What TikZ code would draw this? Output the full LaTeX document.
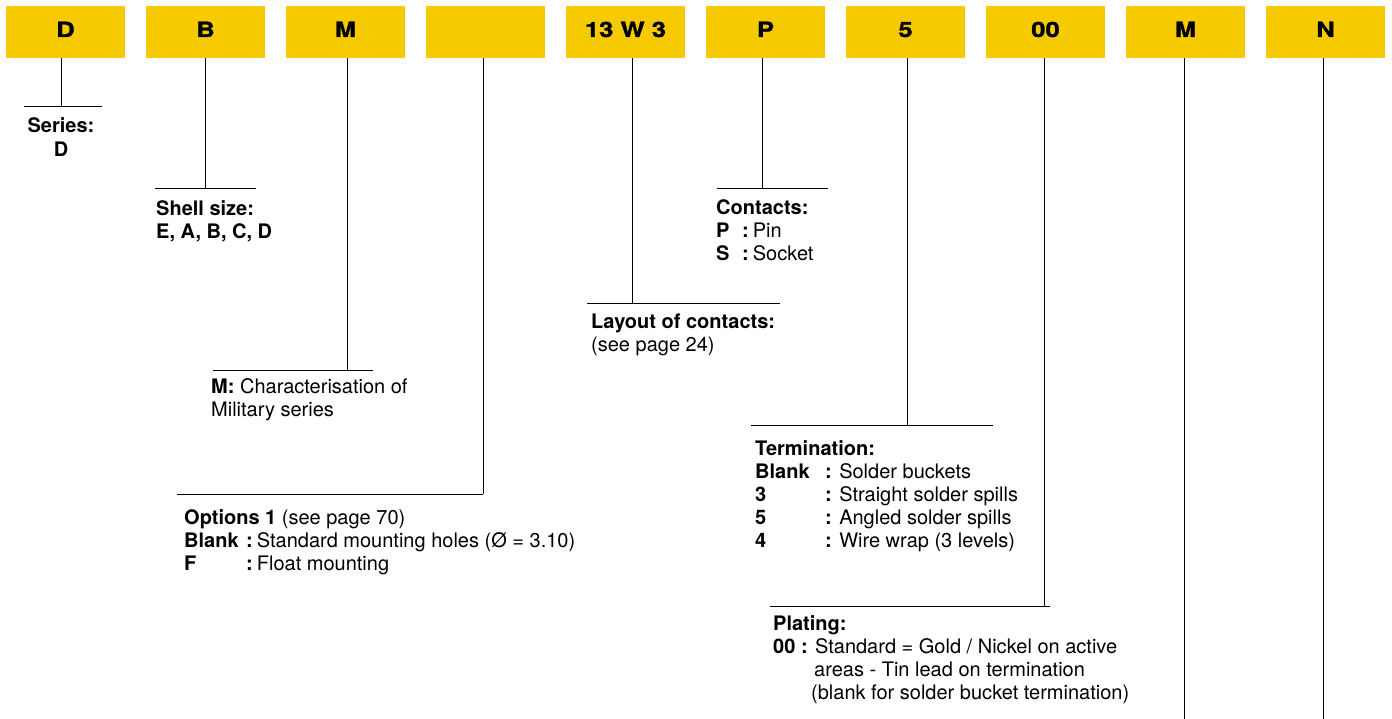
\documentclass[tikz,border=0pt]{standalone}
\usepackage{fontspec}
\setmainfont{TeX Gyre Heros}
\newfontfamily\boxfont{TeX Gyre Heros}[FakeStretch=1.22,FakeBold=1.2]
\definecolor{codeyellow}{RGB}{245,203,0}
\begin{document}
\begin{tikzpicture}[x=1pt,y=-1pt,
  codebox/.style={fill=codeyellow, draw=none, minimum width=119pt, minimum height=52pt, inner sep=0pt, anchor=north west},
  codetxt/.style={anchor=base, inner sep=0pt, font=\boxfont\bfseries\fontsize{21}{21}\selectfont},
  lbl/.style={anchor=base west, inner sep=0pt, font=\fontsize{20}{23}\selectfont},
  lblc/.style={anchor=base, inner sep=0pt, font=\fontsize{20}{23}\selectfont},
  lead/.style={line width=1pt, draw=black}]
\useasboundingbox (0,0) rectangle (1392,719);

% code boxes
\foreach \i/\t in {0/D,1/B,2/M,3/{},4/{13 W 3},5/P,6/5,7/00,8/M,9/N}{
  \node[codebox] (b\i) at (6+140*\i,6) {};
  \node[codetxt] (t\i) at (65.5+140*\i,37) {\t};
}

% junction coordinates
\coordinate (j0) at (61,107);
\coordinate (j1) at (205,189);
\coordinate (j2) at (347,370);
\coordinate (j3) at (483,494);
\coordinate (j4) at (632,304);
\coordinate (j5) at (762,189);
\coordinate (j6) at (907,425);
\coordinate (j7) at (1044,606);
\coordinate (j8) at (1184,719);
\coordinate (j9) at (1323,719);

\foreach \i in {0,...,9}{
  \draw[lead] (b\i.south -| j\i) -- (j\i);
}

% horizontal bars
\coordinate (h0l) at (24,107);   \coordinate (h0r) at (102,107);
\coordinate (h1l) at (155,189);  \coordinate (h1r) at (256,189);
\coordinate (h2l) at (213,370);  \coordinate (h2r) at (373,370);
\coordinate (h3l) at (177,494);  \coordinate (h3r) at (483,494);
\coordinate (h4l) at (587,304);  \coordinate (h4r) at (780,304);
\coordinate (h5l) at (717,189);  \coordinate (h5r) at (828,189);
\coordinate (h6l) at (751,425);  \coordinate (h6r) at (993,425);
\coordinate (h7l) at (770,606);  \coordinate (h7r) at (1050,606);
\foreach \i in {0,...,7}{
  \draw[lead] (h\i l) -- (h\i r);
}

% Series
\node[lblc] (s1) at (61,133) {\bfseries Series:};
\node[lblc] (s2) at (61,157) {\bfseries D};

% Shell size
\node[lbl] (sh1) at (156,216) {\bfseries Shell size:};
\node[lbl] (sh2) at (156,239) {\bfseries E, A, B, C, D};

% Military
\node[lbl] (m1) at (211,393) {\textbf{M:} Characterisation of};
\node[lbl] (m2) at (211,416) {Military series};

% Options
\node[lbl] (o1) at (184,524) {\textbf{Options 1} (see page 70)};
\node[lbl] (o2) at (184,547) {\makebox[62pt][l]{\bfseries Blank}\textbf{:}\hspace{4pt}Standard mounting holes (Ø = 3.10)};
\node[lbl] (o3) at (184,570) {\makebox[62pt][l]{\bfseries F}\textbf{:}\hspace{4pt}Float mounting};

% Layout of contacts
\node[lbl] (l1) at (591,328) {\bfseries Layout of contacts:};
\node[lbl] (l2) at (591,351) {(see page 24)};

% Contacts
\node[lbl] (c1) at (716,215) {\bfseries Contacts:};
\node[lbl] (c2) at (716,238) {\makebox[26pt][l]{\bfseries P}\textbf{:}\hspace{4pt}Pin};
\node[lbl] (c3) at (716,261) {\makebox[26pt][l]{\bfseries S}\textbf{:}\hspace{4pt}Socket};

% Termination
\node[lbl] (te1) at (755,455) {\bfseries Termination:};
\node[lbl] (te2) at (755,478) {\makebox[70pt][l]{\bfseries Blank}\textbf{:} Solder buckets};
\node[lbl] (te3) at (755,501) {\makebox[70pt][l]{\bfseries 3}\textbf{:} Straight solder spills};
\node[lbl] (te4) at (755,524) {\makebox[70pt][l]{\bfseries 5}\textbf{:} Angled solder spills};
\node[lbl] (te5) at (755,547) {\makebox[70pt][l]{\bfseries 4}\textbf{:} Wire wrap (3 levels)};

% Plating
\node[lbl] (p1) at (773,630) {\bfseries Plating:};
\node[lbl] (p2) at (773,653) {\textbf{00 :} Standard = Gold / Nickel on active};
\node[lbl] (p3) at (814,676) {areas - Tin lead on termination};
\node[lbl] (p4) at (811,699) {(blank for solder bucket termination)};
\end{tikzpicture}
\end{document}
